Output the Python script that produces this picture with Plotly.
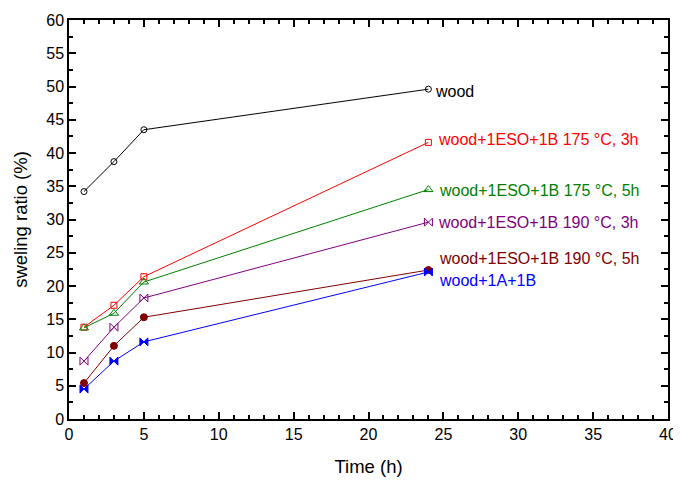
import plotly.graph_objects as go

time_h = [1, 3, 5, 24]
wood = [34.2, 38.7, 43.5, 49.6]
eso_175_3h = [13.8, 17.1, 21.4, 41.6]
eso_175_5h = [13.7, 15.9, 20.6, 34.5]
eso_190_3h = [8.7, 13.8, 18.2, 29.6]
eso_190_5h = [5.4, 11.0, 15.3, 22.4]
a1b1 = [4.5, 8.7, 11.6, 22.1]

labels = ["wood", "wood+1ESO+1B 175 \u00b0C, 3h", "wood+1ESO+1B 175 \u00b0C, 5h",
          "wood+1ESO+1B 190 \u00b0C, 3h", "wood+1ESO+1B 190 \u00b0C, 5h", "wood+1A+1B"]
label_y = [49.3, 42.0, 34.4, 29.5, 24.1, 20.8]
label_x = [24.3, 24.5, 24.6, 24.5, 24.55, 24.6]

series = [wood, eso_175_3h, eso_175_5h, eso_190_3h, eso_190_5h, a1b1]
colors = ["#000000", "#ff0000", "#008000", "#800080", "#800000", "#0000ff"]
symbols = ["circle-open", "square-open", "triangle-up-open", "bowtie-open", "circle", "bowtie"]
sizes = [6, 6, 8, 8, 7, 8]

FONT = "Liberation Sans, Arial, sans-serif"

fig = go.Figure()
for s, c, sym, sz, lab in zip(series, colors, symbols, sizes, labels):
    fig.add_trace(go.Scatter(x=time_h, y=s, mode="lines+markers", name=lab,
                             line=dict(color=c, width=1),
                             marker=dict(symbol=sym, color=c, size=sz, line=dict(color=c, width=1))))

for lab, lx, ly, c in zip(labels, label_x, label_y, colors):
    fig.add_annotation(x=lx, y=ly, xref="x", yref="y", text=lab,
                       showarrow=False, xanchor="left", yanchor="middle",
                       font=dict(color=c, size=16, family=FONT))

axis_common = dict(showline=True, linecolor="black", linewidth=1.5, mirror="allticks",
                   ticks="inside", ticklen=7, tickwidth=1.5, tickcolor="black",
                   showgrid=False, zeroline=False, automargin=False,
                   tickfont=dict(size=16, color="black", family=FONT))

fig.update_xaxes(range=[0, 40], dtick=5, tick0=0,
                 minor=dict(dtick=1, ticks="inside", ticklen=4, tickcolor="black", showgrid=False),
                 title=dict(text="Time (h)", font=dict(size=18.5, color="black", family=FONT), standoff=18),
                 **axis_common)
fig.update_yaxes(range=[0, 60], dtick=5, tick0=0,
                 minor=dict(dtick=2.5, ticks="inside", ticklen=4, tickcolor="black", showgrid=False),
                 title=dict(text="sweling ratio (%)", font=dict(size=18.5, color="black", family=FONT), standoff=14),
                 **axis_common)

fig.update_layout(width=673, height=473, showlegend=False,
                  plot_bgcolor="white", paper_bgcolor="white",
                  margin=dict(l=61, r=13, t=12, b=62, autoexpand=False))

fig.write_html("out.html")
